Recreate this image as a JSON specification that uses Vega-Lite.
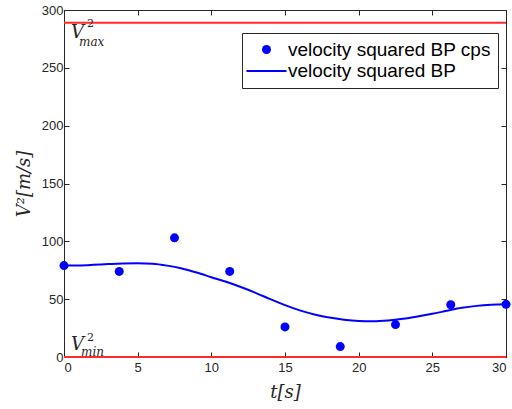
{
  "$schema": "https://vega.github.io/schema/vega-lite/v6.json",
  "width": 442,
  "height": 347,
  "autosize": {"type": "none"},
  "padding": {"left": 64, "top": 10, "right": 6, "bottom": 52},
  "background": "white",
  "config": {
    "view": {"stroke": "#262626", "strokeWidth": 1},
    "axis": {
      "grid": false,
      "labelFont": "Liberation Sans",
      "labelFontSize": 13,
      "labelColor": "#262626",
      "domainColor": "#262626",
      "tickColor": "#262626",
      "tickSize": -5,
      "titleFont": "DejaVu Serif",
      "titleFontStyle": "italic",
      "titleFontWeight": "normal",
      "titleFontSize": 18,
      "titleColor": "#262626"
    }
  },
  "datasets": {
    "series": [
      {"t": 0, "v": 79, "series": "velocity squared BP cps"},
      {"t": 3.75, "v": 74, "series": "velocity squared BP cps"},
      {"t": 7.5, "v": 103, "series": "velocity squared BP cps"},
      {"t": 11.25, "v": 74, "series": "velocity squared BP cps"},
      {"t": 15, "v": 26, "series": "velocity squared BP cps"},
      {"t": 18.75, "v": 9, "series": "velocity squared BP cps"},
      {"t": 22.5, "v": 28, "series": "velocity squared BP cps"},
      {"t": 26.25, "v": 45.2, "series": "velocity squared BP cps"},
      {"t": 30, "v": 45.5, "series": "velocity squared BP cps"},
      {"t": 0, "v": 79, "series": "velocity squared BP"},
      {"t": 1, "v": 79.2, "series": "velocity squared BP"},
      {"t": 2, "v": 79.7, "series": "velocity squared BP"},
      {"t": 3, "v": 80.3, "series": "velocity squared BP"},
      {"t": 4, "v": 80.8, "series": "velocity squared BP"},
      {"t": 5, "v": 81, "series": "velocity squared BP"},
      {"t": 6, "v": 80.6, "series": "velocity squared BP"},
      {"t": 7, "v": 79, "series": "velocity squared BP"},
      {"t": 8, "v": 76.5, "series": "velocity squared BP"},
      {"t": 9, "v": 73, "series": "velocity squared BP"},
      {"t": 10, "v": 69, "series": "velocity squared BP"},
      {"t": 11, "v": 65, "series": "velocity squared BP"},
      {"t": 12, "v": 60.5, "series": "velocity squared BP"},
      {"t": 13, "v": 55.5, "series": "velocity squared BP"},
      {"t": 14, "v": 50, "series": "velocity squared BP"},
      {"t": 15, "v": 44.8, "series": "velocity squared BP"},
      {"t": 16, "v": 40.3, "series": "velocity squared BP"},
      {"t": 17, "v": 36.8, "series": "velocity squared BP"},
      {"t": 18, "v": 34.1, "series": "velocity squared BP"},
      {"t": 19, "v": 32.3, "series": "velocity squared BP"},
      {"t": 20, "v": 31.2, "series": "velocity squared BP"},
      {"t": 21, "v": 30.9, "series": "velocity squared BP"},
      {"t": 22, "v": 31.6, "series": "velocity squared BP"},
      {"t": 23, "v": 33, "series": "velocity squared BP"},
      {"t": 24, "v": 35, "series": "velocity squared BP"},
      {"t": 25, "v": 37.3, "series": "velocity squared BP"},
      {"t": 26, "v": 40, "series": "velocity squared BP"},
      {"t": 27, "v": 42.5, "series": "velocity squared BP"},
      {"t": 28, "v": 44.2, "series": "velocity squared BP"},
      {"t": 29, "v": 45.2, "series": "velocity squared BP"},
      {"t": 30, "v": 45.6, "series": "velocity squared BP"}
    ],
    "limits": [
      {"bound": "max", "v": 289},
      {"bound": "min", "v": 0}
    ],
    "anchor": [{}]
  },
  "resolve": {"axis": {"x": "independent", "y": "independent"}},
  "layer": [
    {
      "data": {"name": "limits"},
      "mark": {"type": "rule", "color": "#ff2a2a", "strokeWidth": 2},
      "encoding": {
        "y": {"field": "v", "type": "quantitative", "scale": {"domain": [0, 300], "nice": false}, "axis": null}
      }
    },
    {
      "data": {"name": "series"},
      "transform": [{"filter": "datum.series === 'velocity squared BP'"}],
      "mark": {"type": "line", "color": "#0000ff", "strokeWidth": 2, "interpolate": "monotone"},
      "encoding": {
        "x": {"field": "t", "type": "quantitative", "scale": {"domain": [0, 30], "nice": false},
              "axis": {"orient": "top", "labels": false, "domain": false, "title": null, "values": [0, 5, 10, 15, 20, 25, 30]}},
        "y": {"field": "v", "type": "quantitative", "scale": {"domain": [0, 300], "nice": false},
              "axis": {"orient": "right", "labels": false, "domain": false, "title": null, "values": [0, 50, 100, 150, 200, 250, 300]}}
      }
    },
    {
      "data": {"name": "series"},
      "transform": [{"filter": "datum.series === 'velocity squared BP cps'"}],
      "mark": {"type": "point", "filled": true, "color": "#0000ff", "size": 81, "opacity": 1},
      "encoding": {
        "x": {"field": "t", "type": "quantitative", "scale": {"domain": [0, 30], "nice": false},
              "axis": {"title": "t[s]", "values": [0, 5, 10, 15, 20, 25, 30], "labelPadding": 9, "titlePadding": 9}},
        "y": {"field": "v", "type": "quantitative", "scale": {"domain": [0, 300], "nice": false},
              "axis": {"title": "V²[m/s]", "values": [0, 50, 100, 150, 200, 250, 300], "labelPadding": 6, "titlePadding": 8}},
        "shape": {
          "field": "series",
          "type": "nominal",
          "scale": {"domain": ["velocity squared BP cps", "velocity squared BP"], "range": ["circle", "M-4.45,-0.23L4.45,-0.23L4.45,0.23L-4.45,0.23Z"]},
          "legend": {
            "title": null,
            "orient": "none",
            "legendX": 178,
            "legendY": 23,
            "padding": 7,
            "strokeColor": "#262626",
            "fillColor": "white",
            "symbolSize": 81,
            "symbolFillColor": "#0000ff",
            "symbolStrokeColor": "#0000ff",
            "symbolStrokeWidth": 0,
            "symbolOpacity": 1,
            "symbolOffset": 8,
            "labelOffset": 12,
            "labelFont": "Liberation Sans",
            "labelFontSize": 19,
            "labelColor": "#000000",
            "rowPadding": 1.5,
            "labelLimit": 400,
            "encode": {
              "symbols": {
                "update": {
                  "fill": {"value": "#0000ff"},
                  "opacity": {"value": 1}
                }
              }
            }
          }
        }
      }
    },
    {
      "data": {"name": "anchor"},
      "mark": {"type": "text", "text": "V", "font": "DejaVu Serif", "fontStyle": "italic", "fontSize": 18, "align": "left", "baseline": "alphabetic", "dx": 7, "dy": 15, "color": "#262626"},
      "encoding": {"x": {"datum": 0, "type": "quantitative", "axis": null}, "y": {"datum": 289, "type": "quantitative", "axis": null}}
    },
    {
      "data": {"name": "anchor"},
      "mark": {"type": "text", "text": "2", "font": "DejaVu Serif", "fontSize": 11, "align": "left", "baseline": "alphabetic", "dx": 23, "dy": 4, "color": "#262626"},
      "encoding": {"x": {"datum": 0, "type": "quantitative", "axis": null}, "y": {"datum": 289, "type": "quantitative", "axis": null}}
    },
    {
      "data": {"name": "anchor"},
      "mark": {"type": "text", "text": "max", "font": "DejaVu Serif", "fontStyle": "italic", "fontSize": 12, "align": "left", "baseline": "alphabetic", "dx": 15, "dy": 23, "color": "#262626"},
      "encoding": {"x": {"datum": 0, "type": "quantitative", "axis": null}, "y": {"datum": 289, "type": "quantitative", "axis": null}}
    },
    {
      "data": {"name": "anchor"},
      "mark": {"type": "text", "text": "V", "font": "DejaVu Serif", "fontStyle": "italic", "fontSize": 18, "align": "left", "baseline": "alphabetic", "dx": 7, "dy": -7, "color": "#262626"},
      "encoding": {"x": {"datum": 0, "type": "quantitative", "axis": null}, "y": {"datum": 0, "type": "quantitative", "axis": null}}
    },
    {
      "data": {"name": "anchor"},
      "mark": {"type": "text", "text": "2", "font": "DejaVu Serif", "fontSize": 11, "align": "left", "baseline": "alphabetic", "dx": 23, "dy": -16, "color": "#262626"},
      "encoding": {"x": {"datum": 0, "type": "quantitative", "axis": null}, "y": {"datum": 0, "type": "quantitative", "axis": null}}
    },
    {
      "data": {"name": "anchor"},
      "mark": {"type": "text", "text": "min", "font": "DejaVu Serif", "fontStyle": "italic", "fontSize": 12, "align": "left", "baseline": "alphabetic", "dx": 17, "dy": -1, "color": "#262626"},
      "encoding": {"x": {"datum": 0, "type": "quantitative", "axis": null}, "y": {"datum": 0, "type": "quantitative", "axis": null}}
    }
  ]
}
